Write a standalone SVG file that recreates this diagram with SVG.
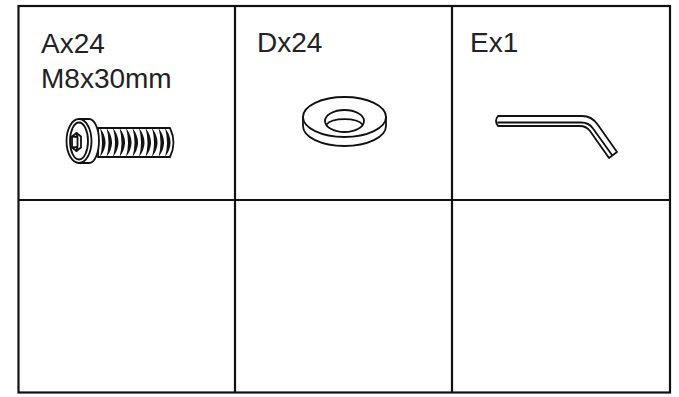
<svg xmlns="http://www.w3.org/2000/svg" width="679" height="397" viewBox="0 0 679 397">
<style>
.grid{fill:none;stroke:#111;stroke-width:2.2}
.lbl{font-family:"Liberation Sans",Arial,sans-serif;font-size:28px;fill:#222}
.ln{fill:none;stroke:#111;stroke-width:1.8;stroke-linejoin:round;stroke-linecap:round}
.lnw{fill:#fff;stroke:#111;stroke-width:1.8;stroke-linejoin:round}
</style>
<rect width="679" height="397" fill="#fff"/>
<g id="table">
<rect class="grid" x="18.5" y="6" width="651.5" height="386.5"/>
<line class="grid" x1="235" y1="6" x2="235" y2="392.5"/>
<line class="grid" x1="452" y1="6" x2="452" y2="392.5"/>
<line class="grid" x1="18.5" y1="200" x2="670" y2="200"/>
</g>
<g id="cell-a">
<text class="lbl" x="41" y="53">Ax24</text>
<text class="lbl" x="41" y="88">M8x30mm</text>
<g id="screw">
<path class="lnw" d="M98,128 L170,128 Q177,142.5 170,157 L98,157 Z"/>
<g fill="#111">
<path d="M100,128 Q111,142.5 100,157 Q104,142.5 100,128 Z"/>
<path d="M106.5,128 Q117.5,142.5 106.5,157 Q110.5,142.5 106.5,128 Z"/>
<path d="M113,128 Q124,142.5 113,157 Q117,142.5 113,128 Z"/>
<path d="M119.5,128 Q130.5,142.5 119.5,157 Q123.5,142.5 119.5,128 Z"/>
<path d="M126,128 Q137,142.5 126,157 Q130,142.5 126,128 Z"/>
<path d="M132.5,128 Q143.5,142.5 132.5,157 Q136.5,142.5 132.5,128 Z"/>
<path d="M139,128 Q150,142.5 139,157 Q143,142.5 139,128 Z"/>
<path d="M145.5,128 Q156.5,142.5 145.5,157 Q149.5,142.5 145.5,128 Z"/>
<path d="M152,128 Q163,142.5 152,157 Q156,142.5 152,128 Z"/>
<path d="M158.5,128 Q169.5,142.5 158.5,157 Q162.5,142.5 158.5,128 Z"/>
<path d="M165,128 Q176,142.5 165,157 Q169,142.5 165,128 Z"/>
</g>
<path class="lnw" d="M79,119 L89,119 A10 22 0 0 1 89,163 L79,163 Z"/>
<ellipse class="lnw" cx="79" cy="141" rx="12.5" ry="22"/>
<ellipse class="ln" cx="79" cy="141" rx="9" ry="18.5"/>
<polygon class="ln" points="76.5,133 81,136.5 81,147.5 76.5,151 72,147.5 72,136.5"/>
<path class="ln" d="M76.5,133 L77.5,137 L77.5,147 L76.5,151 M72,136.5 L77.5,137 M72,147.5 L77.5,147"/>
</g>
</g>
<g id="cell-d">
<text class="lbl" x="257" y="52">Dx24</text>
<g id="washer">
<path class="lnw" d="M303,117 L303,126 A41.5 20 0 0 0 386,126 L386,117 Z"/>
<ellipse class="lnw" cx="344.5" cy="117" rx="41.5" ry="20"/>
<ellipse class="ln" cx="344.5" cy="121" rx="19.5" ry="11"/>
<path class="ln" d="M326.5,124.5 A19 8 0 0 1 362.5,124.5"/>
</g>
</g>
<g id="cell-e">
<text class="lbl" x="470" y="52">Ex1</text>
<g id="hexkey">
<path class="lnw" d="M498,116 L582,116 Q592,116 598,125 L617,152 L609,158 L590,131 Q586,126 580,126 L498,126 Q494,121 498,116 Z"/>
<path class="ln" d="M498,122.5 L581,122.5 Q589,122.5 593,128.5 L612,155"/>
</g>
</g>
<g id="cell-b2"/>
<g id="cell-c2"/>
<g id="cell-f2"/>
</svg>
